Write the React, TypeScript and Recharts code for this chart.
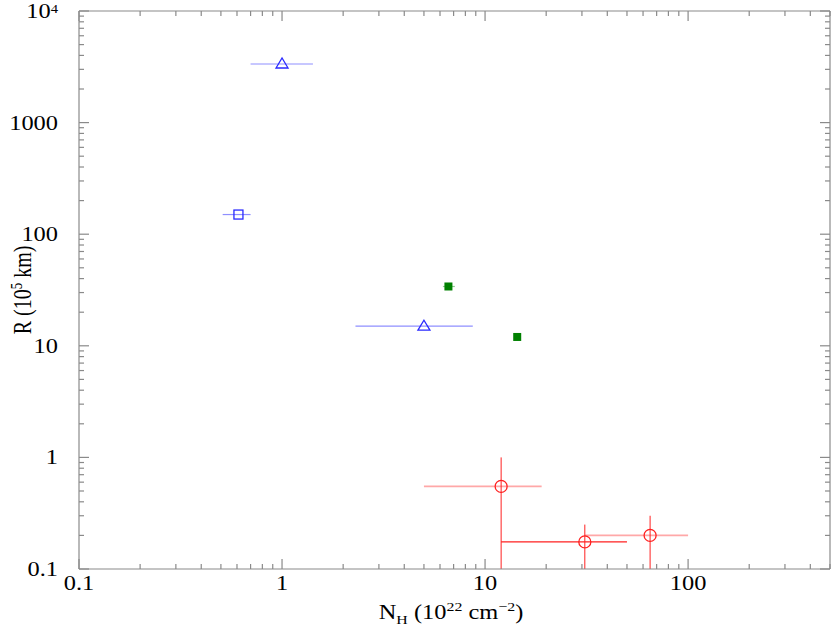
import { ScatterChart, Scatter, XAxis, YAxis, ErrorBar } from "recharts";

// N_H in 1e22 cm^-2, R in 1e5 km
const triNH = [1.0, 5.0];
const triR = [3350, 15];
const triNHLo = [0.7, 2.3];
const triNHHi = [1.42, 8.7];

const sqNH = [0.61];
const sqR = [150];
const sqNHLo = [0.51];
const sqNHHi = [0.7];

const greenNH = [6.6, 14.4];
const greenR = [34, 12];
const greenNHLo = [6.2, 14.4];
const greenNHHi = [7.1, 14.4];

const circNH = [12, 65];
const circR = [0.55, 0.2];
const circNHLo = [5, 31];
const circNHHi = [19, 100];
const circRLo = [0.1, 0.1];
const circRHi = [1.0, 0.3];

const circ2NH = [31];
const circ2R = [0.175];
const circ2NHLo = [12];
const circ2NHHi = [50];
const circ2RLo = [0.1];
const circ2RHi = [0.25];

const xMajor = [0.1, 1, 10, 100];
const xMajorLabels = ["0.1", "1", "10", "100"];
const xMinor = [0.2, 0.3, 0.4, 0.5, 0.6, 0.7, 0.8, 0.9, 2, 3, 4, 5, 6, 7, 8, 9, 20, 30, 40, 50, 60, 70, 80, 90, 200, 300, 400, 500];
const yMajor = [0.1, 1, 10, 100, 1000, 10000];
const yMajorLabels = ["0.1", "1", "10", "100", "1000", "10^4"];
const yMinor = [0.2, 0.3, 0.4, 0.5, 0.6, 0.7, 0.8, 0.9, 2, 3, 4, 5, 6, 7, 8, 9, 20, 30, 40, 50, 60, 70, 80, 90, 200, 300, 400, 500, 600, 700, 800, 900, 2000, 3000, 4000, 5000, 6000, 7000, 8000, 9000];

const FONT = "'Liberation Serif', 'Times New Roman', serif";
const STRETCH = 1.22; // the reference text is wider than it is tall
const AXIS = "#8a8a8a";
const BLUE = "#2a2aff";
const BLUE_BAR = "#8f8fff";
const GREEN = "#008000";
const RED = "#ff2020";
const PINK = "#ffa8a8";

const rows = (
  nh: number[],
  r: number[],
  nhLo: number[],
  nhHi: number[],
  rLo?: number[],
  rHi?: number[]
) =>
  nh.map((v, i) => ({
    nh: v,
    r: r[i],
    ex: [v - nhLo[i], nhHi[i] - v],
    ey: rLo && rHi ? [r[i] - rLo[i], rHi[i] - r[i]] : [0, 0],
  }));

const triData = rows(triNH, triR, triNHLo, triNHHi);
const sqData = rows(sqNH, sqR, sqNHLo, sqNHHi);
const greenData = rows(greenNH, greenR, greenNHLo, greenNHHi);
const circData = rows(circNH, circR, circNHLo, circNHHi, circRLo, circRHi);
const circ2Data = rows(circ2NH, circ2R, circ2NHLo, circ2NHHi, circ2RLo, circ2RHi);

const xTicks = [...xMajor, ...xMinor].sort((a, b) => a - b);
const yTicks = [...yMajor, ...yMinor].sort((a, b) => a - b);

function XTick(props: any) {
  const { x, y, payload, side } = props;
  const i = xMajor.indexOf(payload.value);
  const len = i >= 0 ? 10 : 5;
  const dir = side === "bottom" ? -1 : 1;
  return (
    <g>
      <line x1={x} y1={y} x2={x} y2={y + dir * len} stroke={AXIS} strokeWidth={1.2} />
      {side === "bottom" && i >= 0 && (
        <text
          transform={`translate(${x},${y + 21}) scale(${STRETCH},1)`}
          textAnchor="middle"
          fontFamily={FONT}
          fontSize={20}
          fill="#000"
        >
          {xMajorLabels[i]}
        </text>
      )}
    </g>
  );
}

function YTick(props: any) {
  const { x, y, payload, side } = props;
  const i = yMajor.indexOf(payload.value);
  const len = i >= 0 ? 10 : 5;
  const dir = side === "left" ? 1 : -1;
  const label = i >= 0 ? yMajorLabels[i] : "";
  return (
    <g>
      <line x1={x} y1={y} x2={x + dir * len} y2={y} stroke={AXIS} strokeWidth={1.2} />
      {side === "left" && i >= 0 && (
        <text
          transform={`translate(${x - 21},${y + 7}) scale(${STRETCH},1)`}
          textAnchor="end"
          fontFamily={FONT}
          fontSize={20}
          fill="#000"
        >
          {label.includes("^") ? (
            <>
              <tspan>{label.split("^")[0]}</tspan>
              <tspan dy={-5} fontSize={12}>{label.split("^")[1]}</tspan>
            </>
          ) : (
            label
          )}
        </text>
      )}
    </g>
  );
}

const Triangle = ({ cx, cy }: any) => (
  <polygon
    points={`${cx - 6},${cy + 4} ${cx + 6},${cy + 4} ${cx},${cy - 6}`}
    fill="none"
    stroke={BLUE}
    strokeWidth={1.3}
  />
);
const OpenSquare = ({ cx, cy }: any) => (
  <rect x={cx - 4.5} y={cy - 4.5} width={9} height={9} fill="none" stroke={BLUE} strokeWidth={1.3} />
);
const FilledSquare = ({ cx, cy }: any) => (
  <rect x={cx - 4} y={cy - 4} width={8} height={8} fill={GREEN} />
);
const Circle = ({ cx, cy }: any) => (
  <circle cx={cx} cy={cy} r={6} fill="none" stroke={RED} strokeWidth={1.3} />
);

export default function App() {
  return (
    <div style={{ position: "absolute", left: 0, top: 0, width: 831, height: 635 }}>
      <ScatterChart width={831} height={635} margin={{ top: 0, right: 0, bottom: 0, left: 0 }}>
        <XAxis
          xAxisId="b"
          orientation="bottom"
          type="number"
          dataKey="nh"
          scale="log"
          domain={[0.1, 500]}
          allowDataOverflow
          ticks={xTicks}
          interval={0}
          height={66}
          tickSize={0}
          tickMargin={0}
          tickLine={false}
          axisLine={{ stroke: AXIS, strokeWidth: 1.2 }}
          tick={<XTick side="bottom" />}
        />
        <XAxis
          xAxisId="t"
          orientation="top"
          type="number"
          dataKey="nh"
          scale="log"
          domain={[0.1, 500]}
          allowDataOverflow
          ticks={xTicks}
          interval={0}
          height={11}
          tickSize={0}
          tickMargin={0}
          tickLine={false}
          axisLine={{ stroke: AXIS, strokeWidth: 1.2 }}
          tick={<XTick side="top" />}
        />
        <YAxis
          yAxisId="l"
          orientation="left"
          type="number"
          dataKey="r"
          scale="log"
          domain={[0.1, 10000]}
          allowDataOverflow
          ticks={yTicks}
          interval={0}
          width={79}
          tickSize={0}
          tickMargin={0}
          tickLine={false}
          axisLine={{ stroke: AXIS, strokeWidth: 1.2 }}
          tick={<YTick side="left" />}
        />
        <YAxis
          yAxisId="r"
          orientation="right"
          type="number"
          dataKey="r"
          scale="log"
          domain={[0.1, 10000]}
          allowDataOverflow
          ticks={yTicks}
          interval={0}
          width={1}
          tickSize={0}
          tickMargin={0}
          tickLine={false}
          axisLine={{ stroke: AXIS, strokeWidth: 1.2 }}
          tick={<YTick side="right" />}
        />
        <Scatter data={triData} xAxisId="b" yAxisId="l" shape={<Triangle />} isAnimationActive={false}>
          <ErrorBar dataKey="ex" direction="x" width={0} stroke={BLUE_BAR} strokeWidth={1.2} isAnimationActive={false} />
        </Scatter>
        <Scatter data={sqData} xAxisId="b" yAxisId="l" shape={<OpenSquare />} isAnimationActive={false}>
          <ErrorBar dataKey="ex" direction="x" width={0} stroke={BLUE_BAR} strokeWidth={1.2} isAnimationActive={false} />
        </Scatter>
        <Scatter data={greenData} xAxisId="b" yAxisId="l" shape={<FilledSquare />} isAnimationActive={false}>
          <ErrorBar dataKey="ex" direction="x" width={0} stroke="#8fd08f" strokeWidth={1.2} isAnimationActive={false} />
        </Scatter>
        <Scatter data={circData} xAxisId="b" yAxisId="l" shape={<Circle />} isAnimationActive={false}>
          <ErrorBar dataKey="ex" direction="x" width={0} stroke={PINK} strokeWidth={1.6} isAnimationActive={false} />
          <ErrorBar dataKey="ey" direction="y" width={0} stroke={RED} strokeWidth={1} isAnimationActive={false} />
        </Scatter>
        <Scatter data={circ2Data} xAxisId="b" yAxisId="l" shape={<Circle />} isAnimationActive={false}>
          <ErrorBar dataKey="ex" direction="x" width={0} stroke={RED} strokeWidth={1.2} isAnimationActive={false} />
          <ErrorBar dataKey="ey" direction="y" width={0} stroke={RED} strokeWidth={1} isAnimationActive={false} />
        </Scatter>
      </ScatterChart>
      <div
        style={{
          position: "absolute",
          left: 451,
          top: 596,
          transform: `translateX(-50%) scaleX(${STRETCH})`,
          fontFamily: FONT,
          fontSize: 20,
          whiteSpace: "nowrap",
          lineHeight: "22px",
        }}
      >
        N<sub style={{ fontSize: 13 }}>H</sub> (10<sup style={{ fontSize: 13 }}>22</sup> cm<sup style={{ fontSize: 13 }}>−2</sup>)
      </div>
      <div
        style={{
          position: "absolute",
          left: 20,
          top: 290,
          transform: `translate(-50%, -50%) rotate(-90deg) scale(1, ${STRETCH})`,
          fontFamily: FONT,
          fontSize: 20,
          whiteSpace: "nowrap",
          lineHeight: "22px",
        }}
      >
        R (10<sup style={{ fontSize: 13 }}>5</sup> km)
      </div>
    </div>
  );
}
